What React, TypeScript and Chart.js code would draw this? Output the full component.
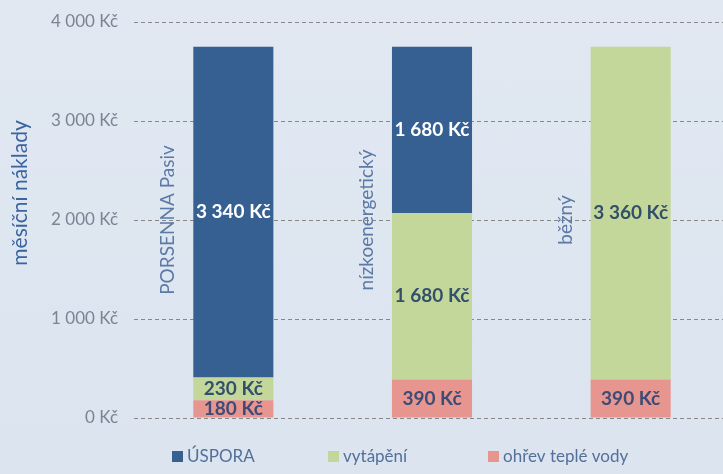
import React, { useEffect, useRef } from "react";
import { Chart, registerables } from "chart.js";

Chart.register(...registerables);

const categories = ["PORSENNA Pasiv", "nízkoenergetický", "běžný"];
const seriesNames = ["ohřev teplé vody", "vytápění", "ÚSPORA"];
const hotWater = [180, 390, 390];
const heating = [230, 1680, 3360];
const savings = [3340, 1680, 0];
const yTicks = [0, 1000, 2000, 3000, 4000];
const yTitle = "měsíční náklady";

const seriesColors = ["#e6958f", "#c4d79b", "#376092"];
const labelColors = ["#3e4b76", "#33506a", "#ffffff"];

const fmt = (v: number) =>
  String(v).replace(/\B(?=(\d{3})+(?!\d))/g, " ") + " Kč";

const FONT = "Lato, 'Open Sans', sans-serif";

const extrasPlugin = {
  id: "extras",
  afterDatasetsDraw(chart: any) {
    const ctx = chart.ctx;
    ctx.save();
    ctx.font = `bold 19px ${FONT}`;
    ctx.textAlign = "center";
    ctx.textBaseline = "middle";
    chart.data.datasets.forEach((ds: any, di: number) => {
      const meta = chart.getDatasetMeta(di);
      meta.data.forEach((el: any, i: number) => {
        const v = ds.data[i];
        if (!v) return;
        ctx.fillStyle = labelColors[di];
        ctx.fillText(fmt(v), el.x, (el.y + el.base) / 2);
      });
    });
    ctx.restore();
  },
  afterDraw(chart: any) {
    const ctx = chart.ctx;
    const area = chart.chartArea;
    const xs = chart.scales.x;
    ctx.save();
    // category labels, rotated, left of each bar
    ctx.font = `19px ${FONT}`;
    ctx.fillStyle = "#5b7aa6";
    ctx.textAlign = "center";
    ctx.textBaseline = "middle";
    categories.forEach((c, i) => {
      const x = xs.getPixelForValue(i) - 65;
      const y = (area.top + area.bottom) / 2;
      ctx.save();
      ctx.translate(x, y);
      ctx.rotate(-Math.PI / 2);
      ctx.fillText(c, 0, 0);
      ctx.restore();
    });
    // y-axis title
    ctx.font = `21px ${FONT}`;
    ctx.fillStyle = "#3a64a0";
    ctx.save();
    ctx.translate(20, 193);
    ctx.rotate(-Math.PI / 2);
    ctx.fillText(yTitle, 0, 0);
    ctx.restore();
    // legend (reversed order)
    const legendX = [172, 328, 488];
    ctx.font = `17px ${FONT}`;
    ctx.textAlign = "left";
    const order = [2, 1, 0];
    order.forEach((si, k) => {
      const x = legendX[k];
      const y = 457;
      ctx.fillStyle = seriesColors[si];
      ctx.fillRect(x, y - 6, 11, 11);
      ctx.fillStyle = "#52709a";
      ctx.fillText(seriesNames[si], x + 15, y);
    });
    ctx.restore();
  },
};

export default function App() {
  const ref = useRef<HTMLCanvasElement>(null);
  useEffect(() => {
    if (!ref.current) return;
    const chart = new Chart(ref.current, {
      type: "bar",
      data: {
        labels: categories,
        datasets: [
          { label: seriesNames[0], data: hotWater, backgroundColor: seriesColors[0] },
          { label: seriesNames[1], data: heating, backgroundColor: seriesColors[1] },
          { label: seriesNames[2], data: savings, backgroundColor: seriesColors[2] },
        ],
      },
      options: {
        animation: false,
        responsive: false,
        maintainAspectRatio: false,
        layout: { padding: { top: 22, bottom: 56, right: 0, left: 0 } },
        datasets: { bar: { barPercentage: 1, categoryPercentage: 0.403 } },
        plugins: {
          legend: { display: false },
          tooltip: { enabled: false },
        },
        scales: {
          x: {
            stacked: true,
            display: false,
          },
          y: {
            stacked: true,
            min: 0,
            max: 4000,
            afterFit: (s: any) => {
              s.width = 134;
            },
            afterBuildTicks: (s: any) => {
              s.ticks = yTicks.map((v) => ({ value: v }));
            },
            border: { display: false, dash: [4, 3] },
            grid: {
              color: "#888888",
              lineWidth: 1,
              drawTicks: true,
              tickLength: 10,
              tickColor: "rgba(0,0,0,0)",
            },
            ticks: {
              padding: 6,
              color: "#7a8494",
              font: { family: FONT, size: 17 },
              callback: (v: any) => fmt(Number(v)),
            },
          },
        },
      },
      plugins: [extrasPlugin],
    } as any);
    return () => chart.destroy();
  }, []);
  return (
    <div
      style={{
        position: "fixed",
        left: 0,
        top: 0,
        width: 723,
        height: 474,
        overflow: "hidden",
        background: "linear-gradient(#e1e8f2, #dbe4ef)",
      }}
    >
      <canvas ref={ref} width={730} height={474} style={{ display: "block" }} />
    </div>
  );
}
